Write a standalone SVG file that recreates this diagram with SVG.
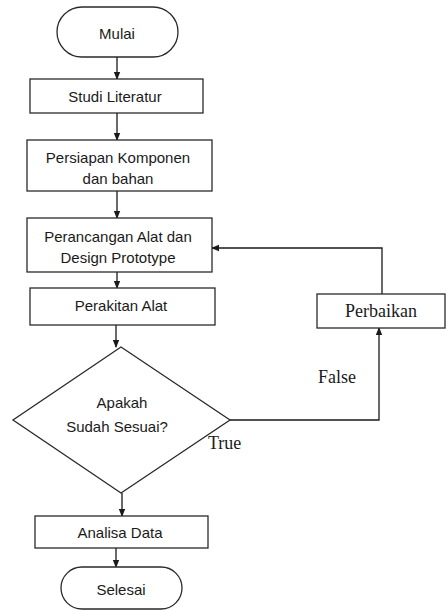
<svg xmlns="http://www.w3.org/2000/svg" width="446" height="610" viewBox="0 0 446 610">
<style>
.s{fill:#fff;stroke:#2a2a2a;stroke-width:1.3}
.t{font-family:"Liberation Sans",Arial,sans-serif;font-size:15px;fill:#1a1a1a;text-anchor:middle;dominant-baseline:central}
.r{font-family:"Liberation Serif","Times New Roman",serif;font-size:18px;fill:#1a1a1a}
.c{fill:none;stroke:#1a1a1a;stroke-width:1.3}
</style>
<defs>
<marker id="a" markerWidth="8" markerHeight="8" refX="7" refY="4" orient="auto" markerUnits="userSpaceOnUse">
<path d="M0,0.8 L8,4 L0,7.2 Z" fill="#1a1a1a"/>
</marker>
</defs>
<g id="connectors">
<path class="c" d="M117,57 V79" marker-end="url(#a)"/>
<path class="c" d="M117,113 V140" marker-end="url(#a)"/>
<path class="c" d="M117,191 V218" marker-end="url(#a)"/>
<path class="c" d="M117,272 V288" marker-end="url(#a)"/>
<path class="c" d="M116,325 V347" marker-end="url(#a)"/>
<path class="c" d="M230,420 H379 V328" marker-end="url(#a)"/>
<path class="c" d="M382,294 V248 H212" marker-end="url(#a)"/>
<path class="c" d="M122,493 V516" marker-end="url(#a)"/>
<path class="c" d="M116,548 V567" marker-end="url(#a)"/>
</g>
<g id="mulai">
<rect class="s" x="57" y="7" width="121" height="50" rx="25"/>
<text class="t" x="117" y="33">Mulai</text>
</g>
<g id="studi">
<rect class="s" x="30" y="79" width="173" height="34"/>
<text class="t" x="115" y="96">Studi Literatur</text>
</g>
<g id="persiapan">
<rect class="s" x="27" y="140" width="185" height="51"/>
<text class="t" x="118" y="157">Persiapan Komponen</text>
<text class="t" x="118" y="178">dan bahan</text>
</g>
<g id="perancangan">
<rect class="s" x="27" y="218" width="185" height="54"/>
<text class="t" x="118" y="236">Perancangan Alat dan</text>
<text class="t" x="118" y="257">Design Prototype</text>
</g>
<g id="perakitan">
<rect class="s" x="30" y="288" width="185" height="37"/>
<text class="t" x="121" y="305">Perakitan Alat</text>
</g>
<g id="keputusan">
<polygon class="s" points="121,347 230,420 121,493 13,420"/>
<text class="t" x="122" y="402">Apakah</text>
<text class="t" x="117" y="426">Sudah Sesuai?</text>
</g>
<g id="perbaikan">
<rect class="s" x="317" y="294" width="128" height="34"/>
<text class="r" x="381" y="317" text-anchor="middle">Perbaikan</text>
</g>
<g id="labels">
<text class="r" x="318" y="383">False</text>
<text class="r" x="208" y="449">True</text>
</g>
<g id="analisa">
<rect class="s" x="35" y="516" width="173" height="32"/>
<text class="t" x="120" y="532">Analisa Data</text>
</g>
<g id="selesai">
<rect class="s" x="61" y="567" width="121" height="42" rx="21"/>
<text class="t" x="121" y="589">Selesai</text>
</g>
</svg>
